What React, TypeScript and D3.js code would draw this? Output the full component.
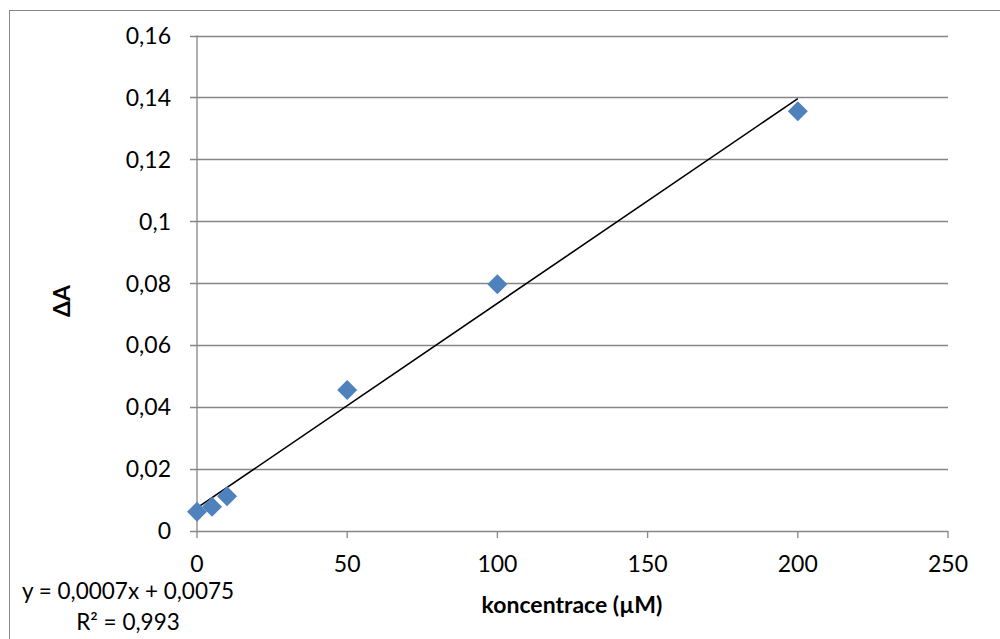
import React, { useEffect, useRef } from 'react';
import * as d3 from 'd3';

const concentrations = [0, 5, 10, 50, 100, 200];
const deltaA = [0.0062, 0.0078, 0.0112, 0.0455, 0.0797, 0.1355];
const xTicks = [0, 50, 100, 150, 200, 250];
const yTicks = [0, 0.02, 0.04, 0.06, 0.08, 0.1, 0.12, 0.14, 0.16];
const equationLines = ['y = 0,0007x + 0,0075', 'R² = 0,993'];

const FONT = 'Lato, "Open Sans", sans-serif';

const App = () => {
  const ref = useRef<SVGSVGElement>(null);

  useEffect(() => {
    const width = 1000;
    const height = 639;
    const svg = d3.select(ref.current);
    svg.selectAll('*').remove();
    svg.attr('width', width).attr('height', height);

    // outer chart frame
    svg.append('rect')
      .attr('x', 9.5).attr('y', 10.5)
      .attr('width', 1010).attr('height', 700)
      .attr('fill', '#fff')
      .attr('stroke', '#868686')
      .attr('stroke-width', 1);

    const x = d3.scaleLinear().domain([0, 250]).range([197, 948]);
    const y = d3.scaleLinear().domain([0, 0.16]).range([531, 35.5]);

    // horizontal gridlines + y ticks
    svg.append('g').selectAll('line')
      .data(yTicks)
      .enter()
      .append('line')
      .attr('x1', x(0) - 7).attr('x2', x(250))
      .attr('y1', d => Math.round(y(d)) + 0.5)
      .attr('y2', d => Math.round(y(d)) + 0.5)
      .attr('stroke', '#868686')
      .attr('stroke-width', 1.3);

    // y axis
    svg.append('line')
      .attr('x1', x(0)).attr('x2', x(0))
      .attr('y1', y(0.16)).attr('y2', y(0))
      .attr('stroke', '#868686').attr('stroke-width', 1.3);

    // x ticks
    svg.append('g').selectAll('line')
      .data(xTicks)
      .enter()
      .append('line')
      .attr('x1', d => x(d)).attr('x2', d => x(d))
      .attr('y1', y(0)).attr('y2', y(0) + 7)
      .attr('stroke', '#868686').attr('stroke-width', 1.3);

    const fmt = (v: number) => (v === 0 ? '0' : String(+v.toFixed(2)).replace('.', ','));

    svg.append('g').selectAll('text')
      .data(yTicks)
      .enter()
      .append('text')
      .attr('x', 171)
      .attr('y', d => y(d))
      .attr('dy', '0.36em')
      .attr('text-anchor', 'end')
      .style('font-family', FONT)
      .style('font-size', '23px')
      .text(d => fmt(d));

    svg.append('g').selectAll('text')
      .data(xTicks)
      .enter()
      .append('text')
      .attr('x', d => x(d))
      .attr('y', 564)
      .attr('dy', '0.36em')
      .attr('text-anchor', 'middle')
      .style('font-family', FONT)
      .style('font-size', '23px')
      .text(d => String(d));

    // linear trendline (least squares)
    const n = concentrations.length;
    const mx = d3.mean(concentrations) as number;
    const my = d3.mean(deltaA) as number;
    let sxy = 0;
    let sxx = 0;
    for (let i = 0; i < n; i++) {
      sxy += (concentrations[i] - mx) * (deltaA[i] - my);
      sxx += (concentrations[i] - mx) ** 2;
    }
    const slope = sxy / sxx;
    const intercept = my - slope * mx;
    const xMax = d3.max(concentrations) as number;

    svg.append('line')
      .attr('x1', x(0)).attr('y1', y(intercept))
      .attr('x2', x(xMax)).attr('y2', y(intercept + slope * xMax))
      .attr('stroke', '#000')
      .attr('stroke-width', 1.6);

    // points
    const diamond = d3.symbol().type(d3.symbolSquare).size(200);
    svg.append('g').selectAll('path')
      .data(concentrations.map((c, i) => ({ c, v: deltaA[i] })))
      .enter()
      .append('path')
      .attr('d', diamond)
      .attr('transform', d => `translate(${x(d.c)},${y(d.v)}) rotate(45)`)
      .attr('fill', '#4F81BD');

    // axis titles
    svg.append('text')
      .attr('x', 572).attr('y', 605)
      .attr('dy', '0.36em')
      .attr('text-anchor', 'middle')
      .style('font-family', FONT)
      .style('font-size', '23px')
      .style('font-weight', 'bold')
      .text('koncentrace (µM)');

    svg.append('text')
      .attr('transform', 'translate(62,301) rotate(-90)')
      .attr('dy', '0.36em')
      .attr('text-anchor', 'middle')
      .style('font-family', FONT)
      .style('font-size', '23px')
      .style('font-weight', 'bold')
      .text('ΔA');

    // trendline equation
    svg.append('g').selectAll('text')
      .data(equationLines)
      .enter()
      .append('text')
      .attr('x', 128)
      .attr('y', (_, i) => 591 + i * 31)
      .attr('dy', '0.36em')
      .attr('text-anchor', 'middle')
      .style('font-family', FONT)
      .style('font-size', '22.5px')
      .text(d => d);
  }, []);

  return (
    <svg ref={ref} style={{ position: 'absolute', left: 0, top: 0, display: 'block' }}></svg>
  );
};

export default App;
